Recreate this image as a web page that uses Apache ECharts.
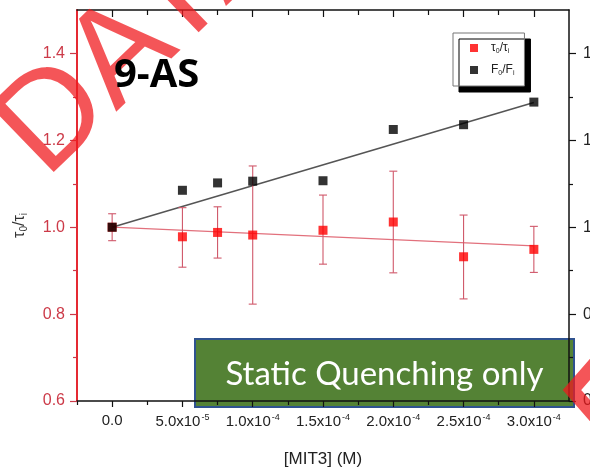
<!DOCTYPE html>
<html>
<head>
<meta charset="utf-8">
<script src="https://cdn.jsdelivr.net/npm/echarts@6/dist/echarts.min.js"></script>
<style>html,body{margin:0;padding:0;background:#fff}#c{width:590px;height:469px}</style>
</head>
<body>
<div id="c"></div>
<script>
// ---- data ----
const conc = [0, 5e-5, 7.5e-5, 1e-4, 1.5e-4, 2e-4, 2.5e-4, 3e-4];
const tauRatio = [1.0, 0.978, 0.988, 0.982, 0.993, 1.012, 0.932, 0.949];
const tauLow   = [0.969, 0.908, 0.929, 0.823, 0.915, 0.895, 0.835, 0.896];
const tauHigh  = [1.031, 1.045, 1.047, 1.141, 1.074, 1.129, 1.028, 1.002];
const fRatio   = [1.0, 1.085, 1.102, 1.106, 1.107, 1.225, 1.236, 1.288];
const fitX     = [0, 3e-4];
const fitF     = [1.0, 1.287];
const fitTau   = [1.0, 0.957];
const xTicks   = [0, 5e-5, 1e-4, 1.5e-4, 2e-4, 2.5e-4, 3e-4];
const xTickLabels = ['0.0', '5.0x10{s|-5}', '1.0x10{s|-4}', '1.5x10{s|-4}', '2.0x10{s|-4}', '2.5x10{s|-4}', '3.0x10{s|-4}'];
const xMinor   = [-2.5e-5, 2.5e-5, 7.5e-5, 1.25e-4, 1.75e-4, 2.25e-4, 2.75e-4];
const yTicks   = [0.6, 0.8, 1.0, 1.2, 1.4];
const yTickLabels = ['0.6', '0.8', '1.0', '1.2', '1.4'];
const yMinor   = [0.7, 0.9, 1.1, 1.3];

const X_MIN = -2.5e-5, X_MAX = 3.25e-4, Y_MIN = 0.6, Y_MAX = 1.5;
const FONT = '"Liberation Sans", Arial, sans-serif';
const RED_AXIS = '#e3121c';
const RED_LABEL = '#cc3a48';

const chart = echarts.init(document.getElementById('c'), null, {renderer: 'canvas'});

function xAxisBase(extra) {
  return Object.assign({
    type: 'value', min: X_MIN, max: X_MAX, splitLine: {show: false},
    axisLine: {show: true, onZero: false, lineStyle: {color: '#111', width: 1.5}},
    axisLabel: {show: false}
  }, extra);
}
function yAxisBase(extra) {
  return Object.assign({
    type: 'value', min: Y_MIN, max: Y_MAX, splitLine: {show: false},
    axisLine: {show: true, onZero: false, lineStyle: {color: '#111', width: 1.5}},
    axisLabel: {show: false}
  }, extra);
}

const option = {
  animation: false,
  backgroundColor: '#fff',
  grid: {left: 77, right: 21, top: 10, bottom: 68, containLabel: false, outerBoundsMode: 'none'},
  xAxis: [
    xAxisBase({
      position: 'bottom',
      name: '[MIT3] (M)', nameLocation: 'middle', nameGap: 50,
      nameTextStyle: {fontFamily: FONT, fontSize: 17, color: '#222'},
      axisTick: {show: true, customValues: xTicks, length: 6, lineStyle: {color: '#111', width: 1.2}},
      axisLabel: {
        show: true, customValues: xTicks, margin: 12,
        fontFamily: FONT, fontSize: 15, color: '#222',
        formatter: function (v) {
          const i = xTicks.findIndex(t => Math.abs(t - v) < 1e-9);
          return i >= 0 ? xTickLabels[i] : '';
        },
        rich: {s: {fontFamily: FONT, fontSize: 9, color: '#222', padding: [0, 0, 9, 1]}}
      }
    }),
    xAxisBase({
      position: 'bottom', axisLine: {show: false, onZero: false},
      axisTick: {show: true, customValues: xMinor, length: 4, lineStyle: {color: '#111', width: 1.2}}
    }),
    xAxisBase({
      position: 'top',
      axisTick: {show: true, inside: true, customValues: xTicks, length: 7, lineStyle: {color: '#111', width: 1.2}}
    }),
    xAxisBase({
      position: 'top', axisLine: {show: false, onZero: false},
      axisTick: {show: true, inside: true, customValues: xMinor.slice(1), length: 5, lineStyle: {color: '#111', width: 1.2}}
    })
  ],
  yAxis: [
    yAxisBase({
      position: 'left',
      name: '{t|τ}{s|0}{t|/τ}{s|i}', nameLocation: 'middle', nameGap: 48,
      nameTextStyle: {
        fontFamily: FONT, fontSize: 16, color: '#333', padding: [0, 0, 0, -40],
        rich: {t: {fontFamily: FONT, fontSize: 16, color: '#333'},
               s: {fontFamily: FONT, fontSize: 10, color: '#333', padding: [8, 0, 0, 0]}}
      },
      axisLine: {show: true, onZero: false, lineStyle: {color: RED_AXIS, width: 1.8}},
      axisTick: {show: true, customValues: yTicks, length: 7, lineStyle: {color: RED_LABEL, width: 1.2}},
      axisLabel: {
        show: true, customValues: yTicks, margin: 12,
        fontFamily: FONT, fontSize: 16, color: RED_LABEL,
        formatter: function (v) {
          const i = yTicks.findIndex(t => Math.abs(t - v) < 1e-9);
          return i >= 0 ? yTickLabels[i] : '';
        }
      }
    }),
    yAxisBase({
      position: 'left', axisLine: {show: false, onZero: false},
      axisTick: {show: true, customValues: yMinor, length: 4, lineStyle: {color: RED_LABEL, width: 1.2}}
    }),
    yAxisBase({
      position: 'right',
      axisTick: {show: true, customValues: yTicks, length: 7, lineStyle: {color: '#111', width: 1.2}},
      axisLabel: {
        show: true, customValues: yTicks, margin: 14,
        fontFamily: FONT, fontSize: 16, color: '#222',
        formatter: function (v) {
          const i = yTicks.findIndex(t => Math.abs(t - v) < 1e-9);
          return i >= 0 ? yTickLabels[i] : '';
        }
      }
    }),
    yAxisBase({
      position: 'right', axisLine: {show: false, onZero: false},
      axisTick: {show: true, customValues: yMinor, length: 4, lineStyle: {color: '#111', width: 1.2}}
    })
  ],
  legend: {
    left: 453, top: 33, orient: 'vertical',
    padding: [9, 10, 9, 17], itemGap: 9, itemWidth: 8, itemHeight: 8,
    backgroundColor: '#fff', borderColor: '#777', borderWidth: 1,
    shadowColor: '#000', shadowBlur: 0, shadowOffsetX: 6, shadowOffsetY: 6,
    data: [{name: 'tau', icon: 'rect'}, {name: 'F', icon: 'rect'}],
    formatter: function (name) {
      return name === 'tau' ? '{g|}{a|τ}{b|0}{a|/τ}{b|i}' : '{g|}{a|F}{b|0}{a|/F}{b|i}';
    },
    textStyle: {
      fontFamily: FONT, fontSize: 12, color: '#222',
      rich: {g: {width: 8},
             a: {fontFamily: FONT, fontSize: 12, color: '#222'},
             b: {fontFamily: FONT, fontSize: 7, color: '#222', padding: [7, 0, 0, 0]}}
    }
  },
  series: [
    {
      type: 'line', name: 'fitTau', xAxisIndex: 0, yAxisIndex: 0, z: 2,
      data: fitX.map((x, i) => [x, fitTau[i]]), symbol: 'none',
      lineStyle: {color: '#e2707c', width: 1.2}
    },
    {
      type: 'line', name: 'fitF', xAxisIndex: 0, yAxisIndex: 0, z: 2,
      data: fitX.map((x, i) => [x, fitF[i]]), symbol: 'none',
      lineStyle: {color: '#555', width: 1.6}
    },
    {
      type: 'custom', name: 'err', xAxisIndex: 0, yAxisIndex: 0, z: 3,
      data: conc.map((x, i) => [x, tauLow[i], tauHigh[i]]),
      renderItem: function (params, api) {
        const lo = api.coord([api.value(0), api.value(1)]);
        const hi = api.coord([api.value(0), api.value(2)]);
        const w = 4;
        const st = {stroke: '#d0586a', lineWidth: 1.1};
        return {
          type: 'group',
          children: [
            {type: 'line', shape: {x1: lo[0], y1: lo[1], x2: hi[0], y2: hi[1]}, style: st},
            {type: 'line', shape: {x1: lo[0] - w, y1: lo[1], x2: lo[0] + w, y2: lo[1]}, style: st},
            {type: 'line', shape: {x1: hi[0] - w, y1: hi[1], x2: hi[0] + w, y2: hi[1]}, style: st}
          ]
        };
      }
    },
    {
      type: 'scatter', name: 'tau', xAxisIndex: 0, yAxisIndex: 0, z: 4,
      data: conc.map((x, i) => [x, tauRatio[i]]),
      symbol: 'rect', symbolSize: 9, itemStyle: {color: '#ff0000'}
    },
    {
      type: 'scatter', name: 'F', xAxisIndex: 0, yAxisIndex: 0, z: 5,
      data: conc.map((x, i) => [x, fRatio[i]]),
      symbol: 'rect', symbolSize: 9, itemStyle: {color: '#000'}
    }
  ],
  graphic: [
    {
      type: 'group', z: 100,
      children: [
        {type: 'rect', shape: {x: 195, y: 339, width: 379, height: 68},
         style: {fill: '#548235', stroke: '#2f528f', lineWidth: 2}},
        {type: 'text', x: 384.5, y: 374,
         style: {text: 'Static Quenching only', fill: '#fff', font: 'normal 33px Lato, "Open Sans", sans-serif',
                 align: 'center', verticalAlign: 'middle'}}
      ]
    },
    {
      type: 'text', z: 110, x: 20, y: 153, rotation: 44 * Math.PI / 180,
      style: {text: 'DATA', fill: 'rgba(240,25,30,0.74)', font: 'normal 135px "Liberation Sans", Arial, sans-serif',
              align: 'left', verticalAlign: 'middle'}
    },
    {
      type: 'polyline', z: 110,
      shape: {points: [[600, 358], [572, 390], [600, 422]]},
      style: {stroke: 'rgba(240,25,30,0.74)', lineWidth: 14, fill: null, lineJoin: 'miter'}
    },
    {
      type: 'text', z: 120, x: 114, y: 76,
      style: {text: '9-AS', fill: '#000', font: 'bold 40px "Open Sans", sans-serif',
              align: 'left', verticalAlign: 'middle'}
    }
  ]
};
chart.setOption(option);
</script>
</body>
</html>
